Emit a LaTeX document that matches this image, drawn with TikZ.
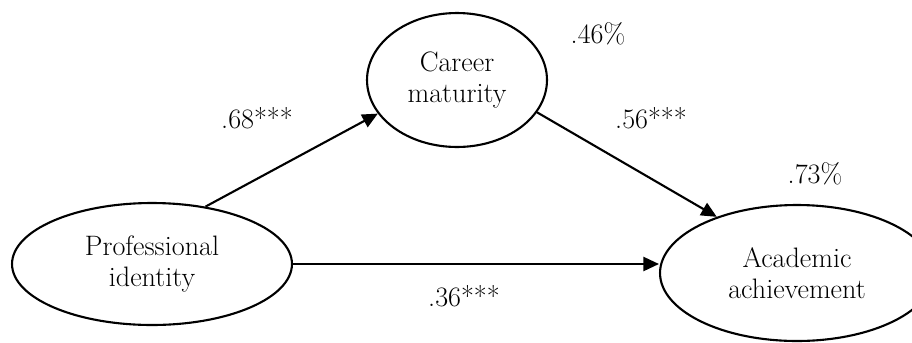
\documentclass[tikz,border=0pt]{standalone}
\usepackage{tikz}
\usetikzlibrary{arrows.meta,shapes.geometric}

\begin{document}
\begin{tikzpicture}[x=0.02cm, y=-0.02cm,
    latent/.style={draw, ellipse, line width=1.2pt, align=center, inner sep=0pt, font=\fontsize{16}{18}\selectfont},
    edge/.style={-{Triangle[length=3.1mm, width=2.8mm]}, line width=1.2pt},
    lab/.style={font=\fontsize{16}{18}\selectfont}
  ]
    \useasboundingbox (0,0) rectangle (912,342);
    \node[latent, minimum width=5.6cm, minimum height=2.44cm] (prof) at (152,264) {Professional\\identity};
    \node[latent, minimum width=3.6cm, minimum height=2.68cm] (career) at (457,80) {Career\\maturity};
    \node[latent, minimum width=5.48cm, minimum height=2.72cm] (acad) at (797,273) {Academic\\achievement};

    \node[lab] (l68) at (257,118) {.68***};
    \node[lab] (l46) at (598,34) {.46\%};
    \node[lab] (l56) at (651,118) {.56***};
    \node[lab] (l73) at (815,174) {.73\%};
    \node[lab] (l36) at (464,296) {.36***};

    \draw[edge] (prof.47) -- (career.203);
    \draw[edge] (career.338) -- (acad.145);
    \draw[edge] (prof.east) -- (prof.east -| acad.west);
  \end{tikzpicture}
\end{document}
